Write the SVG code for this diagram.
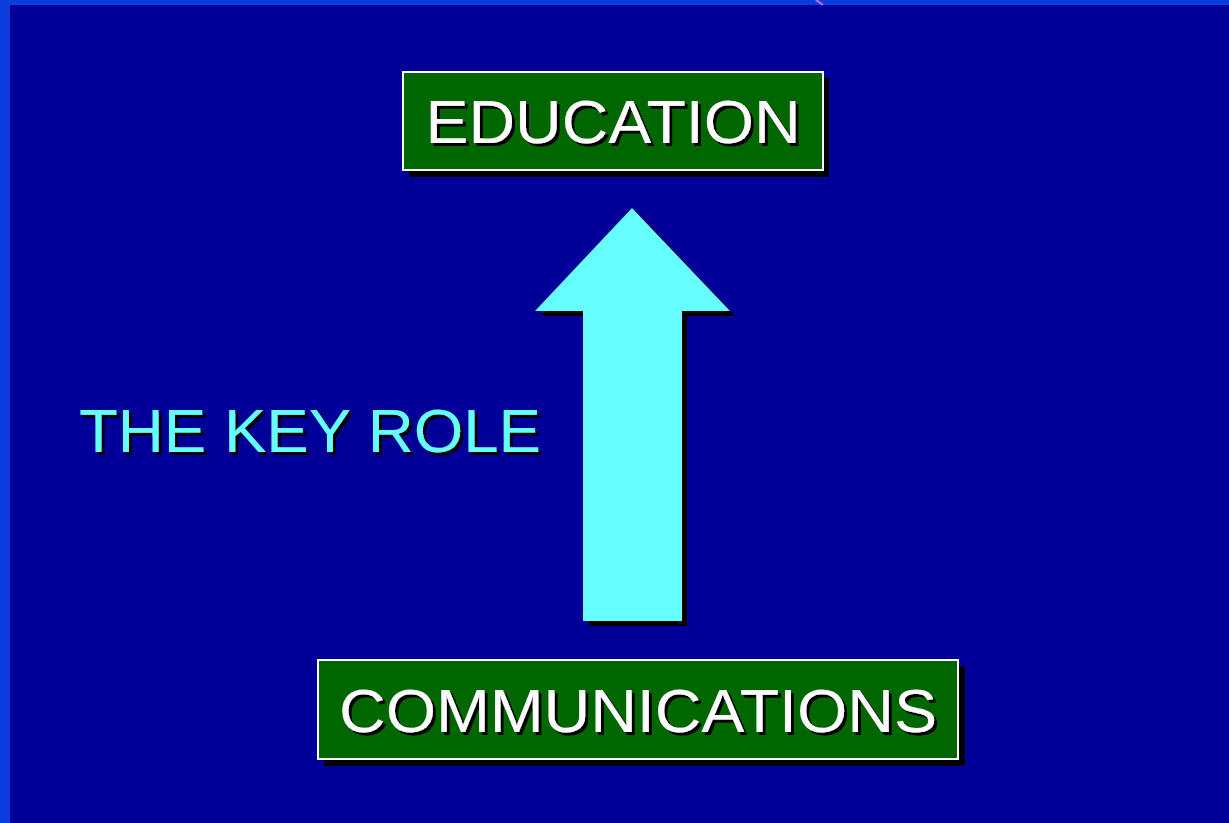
<svg xmlns="http://www.w3.org/2000/svg" width="1229" height="823" viewBox="0 0 1229 823">
  <defs>
    <filter id="ts" x="-5%" y="-20%" width="115%" height="150%">
      <feOffset in="SourceAlpha" dx="3" dy="3" result="o"/>
      <feFlood flood-color="#000000"/>
      <feComposite operator="in" in2="o" result="s"/>
      <feMerge><feMergeNode in="s"/><feMergeNode in="SourceGraphic"/></feMerge>
    </filter>
  </defs>
  <style>
    .box { fill: #006600; stroke: #ffffff; stroke-width: 2; }
    .shadow { fill: #000000; }
    .lbl { font-family: "Liberation Sans", Arial, sans-serif; font-size: 62px; text-anchor: middle; filter: url(#ts); }
    .white { fill: #ffffff; }
    .cyan { fill: #66ffff; }
  </style>
  <rect x="0" y="0" width="1229" height="823" fill="#0a3ddc"/>
  <rect x="10" y="5" width="1219" height="818" fill="#000099"/>
  <line x1="816" y1="0" x2="823" y2="5" stroke="#c070f0" stroke-width="2"/>

  <g id="education">
    <rect class="shadow" x="409" y="78" width="420" height="99"/>
    <rect class="box" x="403" y="72" width="420" height="98"/>
    <text class="lbl white" x="613" y="143" textLength="375" lengthAdjust="spacingAndGlyphs">EDUCATION</text>
  </g>

  <g id="communications">
    <rect class="shadow" x="324" y="666" width="641" height="100"/>
    <rect class="box" x="318" y="660" width="640" height="99"/>
    <text class="lbl white" x="638" y="732" textLength="598" lengthAdjust="spacingAndGlyphs">COMMUNICATIONS</text>
  </g>

  <g id="key-role">
    <text class="lbl cyan" x="310" y="452" style="font-size:61px" textLength="462" lengthAdjust="spacingAndGlyphs">THE KEY ROLE</text>
  </g>

  <g id="connectors">
    <polygon class="shadow" points="638,213 735,316 687,316 687,626 589,626 589,316 541,316"/>
    <polygon fill="#66ffff" points="632,208 730,311 682,311 682,621 583,621 583,311 535,311"/>
  </g>
</svg>
